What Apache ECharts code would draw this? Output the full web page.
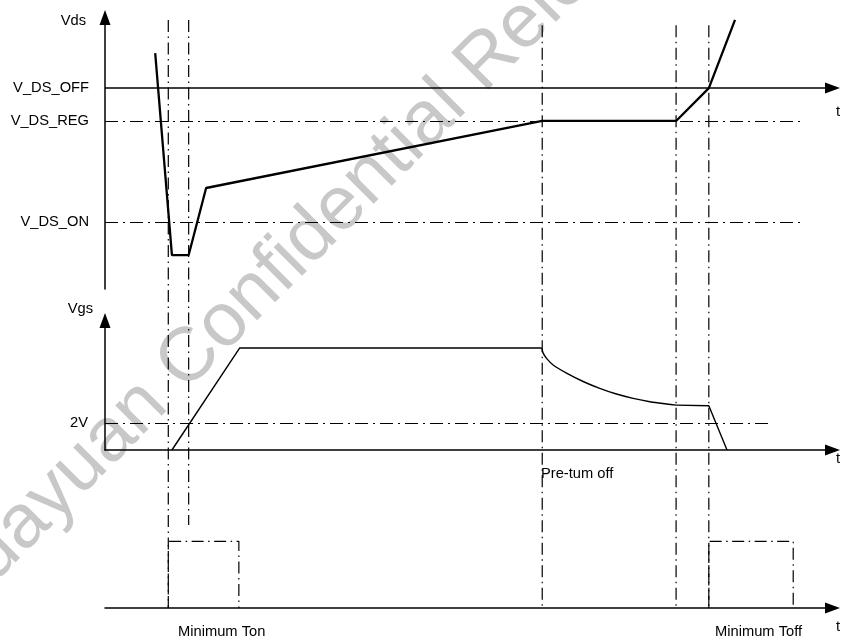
<!DOCTYPE html>
<html><head><meta charset="utf-8">
<script src="https://cdn.jsdelivr.net/npm/echarts@6/dist/echarts.min.js"></script>
<style>html,body{margin:0;padding:0;background:#fff}#c{width:841px;height:640px}</style>
</head><body><div id="c"></div>
<script>
// ---- data (time in arbitrary units shared by all traces) ----
const markerTimes = [8.7, 11.5, 60.1, 78.5, 83.0];
const vdsTime = [6.9, 9.2, 11.5, 13.9, 60.1, 78.5, 83.0, 86.6];
const vdsValue = [8.69, 1.25, 1.25, 3.72, 6.19, 6.19, 7.40, 9.91];
const vdsLevelNames = ['V_DS_OFF', 'V_DS_REG', 'V_DS_ON'];
const vdsLevelValues = [7.40, 6.19, 2.47];
const vgsRampTime = [9.2, 18.5, 60.05];
const vgsRampValue = [0, 7.56, 7.56];
const vgsDecayTime = [60.05, 60.25, 60.7, 61.6, 63.5, 65.8, 68.0, 70.3, 72.6, 74.9, 77.2, 78.5];
const vgsDecayValue = [7.56, 7.16, 6.79, 6.30, 5.68, 5.06, 4.57, 4.15, 3.83, 3.58, 3.41, 3.33];
const vgsFallTime = [78.5, 83.0, 85.5];
const vgsFallValue = [3.33, 3.28, 0];
const vgsThresholdName = '2V';
const vgsThresholdValue = 2;
const pulseTonTime = [8.7, 8.7, 18.4, 18.4];
const pulseToffTime = [83.0, 83.0, 94.6, 94.6];
const pulseLevel = [0, 1, 1, 0];

// ---- layout / style ----
const FONT = 'Liberation Sans, Arial, sans-serif';
const FS = 14.7;
const dashV = [12, 4.5, 1.5, 4.5];
const dashH = [13, 5, 2, 5];
const arrow = { symbol: ['none', 'triangle'], symbolSize: [11, 15] };
const L = 105, R = 8.5;
const levelEnd = 95.8, thresholdEnd = 91.7;
const markerTop = [1, 1, 0.991, 0.991, 0.991];
const markerBottom = [0, 0.141, 0, 0, 0];

const zip = (a, b) => a.map((v, i) => [v, b[i]]);
const xAx = (gi, show) => ({
  gridIndex: gi, type: 'value', min: 0, max: 100, show: show,
  axisLine: show ? { show: true, onZero: false, ...arrow, lineStyle: { color: '#000', width: 1.5 } } : { show: false },
  axisTick: { show: false }, axisLabel: { show: false }, splitLine: { show: false }
});
const yAx = (gi, max, show, name, gap, padR) => ({
  gridIndex: gi, type: 'value', min: 0, max: max, show: show,
  name: name || '', nameLocation: 'end', nameGap: gap || 0,
  nameTextStyle: { color: '#000', fontSize: FS, fontFamily: FONT, align: 'right', verticalAlign: 'middle', padding: [0, padR || 0, 0, 0] },
  axisLine: show ? { show: true, onZero: false, ...arrow, lineStyle: { color: '#000', width: 1.5 } } : { show: false },
  axisTick: { show: false }, axisLabel: { show: false }, splitLine: { show: false }
});
const lvlLabel = (txt, dist) => ({ show: true, position: 'start', distance: dist, formatter: txt, color: '#000', fontSize: FS, fontFamily: FONT });

const vdsMarks = vdsLevelNames.map((n, i) => {
  const solid = i === 0;
  return [
    { coord: [0, vdsLevelValues[i]], symbol: 'none', label: lvlLabel(n, 16),
      lineStyle: { type: solid ? 'solid' : dashH, width: solid ? 1.5 : 1.2, color: '#000' } },
    solid ? { coord: [100, vdsLevelValues[i]], symbol: 'triangle', symbolSize: [11, 15] }
          : { coord: [levelEnd, vdsLevelValues[i]], symbol: 'none' }
  ];
});

const series = [
  { name: 'Vds', type: 'line', xAxisIndex: 0, yAxisIndex: 0, data: zip(vdsTime, vdsValue),
    symbol: 'none', lineStyle: { color: '#000', width: 2.3 }, z: 5,
    markLine: { silent: true, symbol: ['none', 'none'], animation: false, data: vdsMarks } },
  { name: 'Vgs ramp', type: 'line', xAxisIndex: 1, yAxisIndex: 1, data: zip(vgsRampTime, vgsRampValue),
    symbol: 'none', lineStyle: { color: '#000', width: 1.4 }, z: 5,
    markLine: { silent: true, symbol: ['none', 'none'], animation: false,
      data: [[{ coord: [0, vgsThresholdValue], label: lvlLabel(vgsThresholdName, 17), lineStyle: { type: dashH, width: 1.2, color: '#000' } },
              { coord: [thresholdEnd, vgsThresholdValue] }]] } },
  { name: 'Vgs decay', type: 'line', xAxisIndex: 1, yAxisIndex: 1, data: zip(vgsDecayTime, vgsDecayValue),
    symbol: 'none', smooth: 0.35, lineStyle: { color: '#000', width: 1.4 }, z: 5 },
  { name: 'Vgs fall', type: 'line', xAxisIndex: 1, yAxisIndex: 1, data: zip(vgsFallTime, vgsFallValue),
    symbol: 'none', lineStyle: { color: '#000', width: 1.4 }, z: 5 },
  { name: 'Minimum Ton', type: 'line', xAxisIndex: 2, yAxisIndex: 2, data: zip(pulseTonTime, pulseLevel),
    symbol: 'none', lineStyle: { color: '#000', width: 1.2, type: dashV } },
  { name: 'Minimum Toff', type: 'line', xAxisIndex: 2, yAxisIndex: 2, data: zip(pulseToffTime, pulseLevel),
    symbol: 'none', lineStyle: { color: '#000', width: 1.2, type: dashV } }
];
markerTimes.forEach((t, i) => {
  series.push({ name: 'marker' + i, type: 'line', xAxisIndex: 3, yAxisIndex: 3,
    data: [[t, markerTop[i]], [t, markerBottom[i]]], symbol: 'none', clip: false,
    lineStyle: { color: '#000', width: 1.2, type: dashV } });
});

const txt = (x, y, s, align) => ({ type: 'text', x: x, y: y, z: 10,
  style: { text: s, fill: '#000', font: FS + 'px ' + FONT, textAlign: align || 'left', textVerticalAlign: 'middle' } });

const option = {
  animation: false,
  backgroundColor: '#fff',
  grid: [
    { left: L, right: R, top: 17.5, bottom: 351 },
    { left: L, right: R, top: 320.5, bottom: 190 },
    { left: L, right: R, top: 528, bottom: 32 },
    { left: L, right: R, top: 20, bottom: 32 }
  ],
  xAxis: [xAx(0, false), xAx(1, true), xAx(2, true), xAx(3, false)],
  yAxis: [yAx(0, 10, true, 'Vds', -3.5, 19), yAx(1, 9.6, true, 'Vgs', 11.5, 12), yAx(2, 1.2, false), yAx(3, 1, false)],
  series: series,
  graphic: { elements: [
    { type: 'text', x: 303, y: 245, rotation: 45 * Math.PI / 180, z: -10,
      style: { text: 'Huayuan Confidential Release', fill: '#c8c8c8', font: '76px ' + FONT, textAlign: 'center', textVerticalAlign: 'middle' } },
    txt(836, 112, 't'), txt(836, 459, 't'), txt(836, 627, 't'),
    txt(541, 474, 'Pre-tum off'),
    txt(178, 632, 'Minimum Ton'),
    txt(715, 632, 'Minimum Toff')
  ] }
};
echarts.init(document.getElementById('c')).setOption(option);
</script></body></html>
